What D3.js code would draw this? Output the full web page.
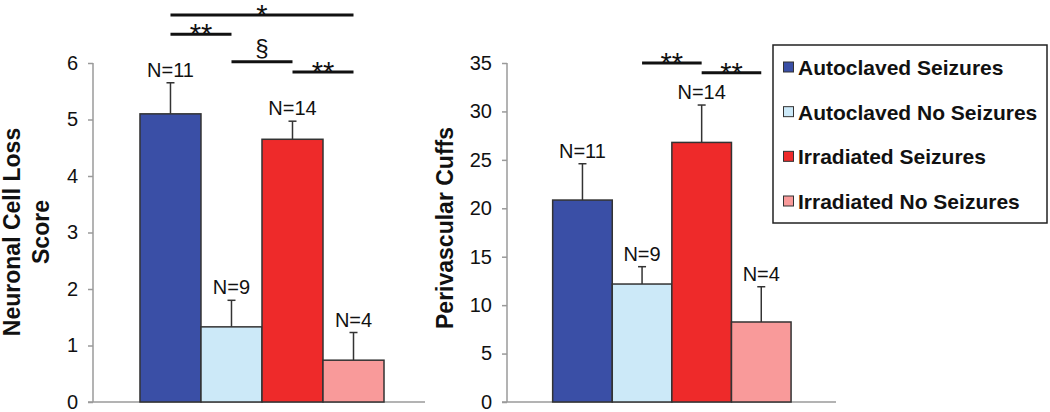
<!DOCTYPE html>
<html><head><meta charset="utf-8">
<script src="https://cdn.jsdelivr.net/npm/d3@7"></script>
<style>
body{margin:0;background:#fff;}
svg{display:block;font-family:"Liberation Sans",Arial,sans-serif;}
</style></head>
<body><svg id="c" width="1050" height="412"></svg>
<script>
const groups = ["Autoclaved Seizures","Autoclaved No Seizures","Irradiated Seizures","Irradiated No Seizures"];
const groupColors = ["#3a4fa6","#cce9f8","#ee2a2a","#f99a9a"];
const groupN = ["N=11","N=9","N=14","N=4"];

const lossMeans = [5.10, 1.33, 4.65, 0.74];
const lossErr   = [0.55, 0.47, 0.32, 0.49];
const lossTicks = [0,1,2,3,4,5,6];
const lossSig = [
  {from:0,to:3,label:"*",level:6.85},
  {from:0,to:1,label:"**",level:6.51},
  {from:1,to:2,label:"§",level:6.02},
  {from:2,to:3,label:"**",level:5.84}
];

const cuffMeans = [20.85, 12.18, 26.8, 8.26];
const cuffErr   = [3.75, 1.79, 3.86, 3.64];
const cuffTicks = [0,5,10,15,20,25,30,35];
const cuffSig = [
  {from:1,to:2,label:"**",level:35.0},
  {from:2,to:3,label:"**",level:34.0}
];

const svg = d3.select("#c");

function panel(opt){
  const g = svg.append("g");
  const x = d3.scaleBand().domain(d3.range(groups.length))
    .range([opt.x0, opt.x1]).paddingInner(0).paddingOuter(opt.pad).align(opt.align);
  const y = d3.scaleLinear().domain([0, opt.max]).range([402, 63]);

  // axis
  const ax = g.append("g").attr("transform",`translate(${opt.x0},0)`)
    .call(d3.axisLeft(y).tickValues(opt.ticks).tickSize(5).tickPadding(10).tickFormat(d3.format("d")));
  ax.select(".domain").remove();
  ax.selectAll(".tick line").attr("stroke","#9a9a9a").attr("stroke-width",1.5);
  ax.selectAll(".tick text").attr("fill","#111").style("font-size","20px").style("font-family","Liberation Sans, Arial, sans-serif");
  g.append("line").attr("x1",opt.x0).attr("x2",opt.x0).attr("y1",y(opt.max)).attr("y2",y(0))
    .attr("stroke","#9a9a9a").attr("stroke-width",1.5);
  g.append("line").attr("x1",opt.x0-5).attr("x2",opt.x1).attr("y1",y(0)).attr("y2",y(0))
    .attr("stroke","#9a9a9a").attr("stroke-width",1.5);

  // error bars
  opt.means.forEach((m,i)=>{
    const cx = x(i)+x.bandwidth()/2;
    g.append("line").attr("x1",cx).attr("x2",cx).attr("y1",y(m)).attr("y2",y(m+opt.err[i]))
      .attr("stroke","#333").attr("stroke-width",1.5);
    g.append("line").attr("x1",cx-4).attr("x2",cx+4).attr("y1",y(m+opt.err[i])).attr("y2",y(m+opt.err[i]))
      .attr("stroke","#333").attr("stroke-width",1.5);
    g.append("text").attr("x",cx).attr("y",y(m+opt.err[i])-6).attr("text-anchor","middle")
      .style("font-size","20px").attr("fill","#111").text(groupN[i]);
  });
  // bars
  g.selectAll("rect.bar").data(opt.means).enter().append("rect")
    .attr("x",(d,i)=>x(i)).attr("width",x.bandwidth())
    .attr("y",d=>y(d)).attr("height",d=>y(0)-y(d))
    .attr("fill",(d,i)=>groupColors[i]).attr("stroke","#333").attr("stroke-width",1.5);

  // significance
  opt.sig.forEach(s=>{
    const xa = x(s.from)+x.bandwidth()/2, xb = x(s.to)+x.bandwidth()/2;
    const ly = y(s.level);
    g.append("line").attr("x1",xa).attr("x2",xb).attr("y1",ly).attr("y2",ly)
      .attr("stroke","#111").attr("stroke-width",3);
    const isStar = s.label.indexOf("*")>=0;
    g.append("text").attr("x",(xa+xb)/2).attr("y", isStar ? ly+10 : ly-6)
      .attr("text-anchor","middle").style("font-size", isStar ? "29px" : "24px")
      .attr("fill","#111").text(s.label);
  });

  // y label
  const lab = g.append("text").attr("transform",`translate(${opt.labX},${opt.labY}) rotate(-90)`)
    .attr("text-anchor","middle").style("font-size","23px").style("font-weight","bold").attr("fill","#111");
  opt.label.forEach((t,k)=>{
    lab.append("tspan").attr("x",0).attr("dy", k===0?0:29).text(t);
  });
}

panel({x0:93,x1:425,pad:0.721,align:0.534,max:6,ticks:lossTicks,means:lossMeans,err:lossErr,sig:lossSig,
  label:["Neuronal Cell Loss","Score"],labX:20,labY:232});
panel({x0:507,x1:836,pad:0.76,align:0.504,max:35,ticks:cuffTicks,means:cuffMeans,err:cuffErr,sig:cuffSig,
  label:["Perivascular Cuffs"],labX:453,labY:228});

// legend
const lg = svg.append("g");
lg.append("rect").attr("x",773).attr("y",45).attr("width",274).attr("height",178)
  .attr("fill","#fff").attr("stroke","#222").attr("stroke-width",1.5);
const ly = d3.scalePoint().domain(d3.range(groups.length)).range([67.5,201.5]);
groups.forEach((gname,i)=>{
  lg.append("rect").attr("x",783.5).attr("y",ly(i)-5.5).attr("width",10).attr("height",10)
    .attr("fill",groupColors[i]).attr("stroke","#333").attr("stroke-width",1);
  lg.append("text").attr("x",798).attr("y",ly(i)+7.5).style("font-size","21px").style("font-weight","bold")
    .attr("fill","#111").text(gname);
});
</script></body></html>
